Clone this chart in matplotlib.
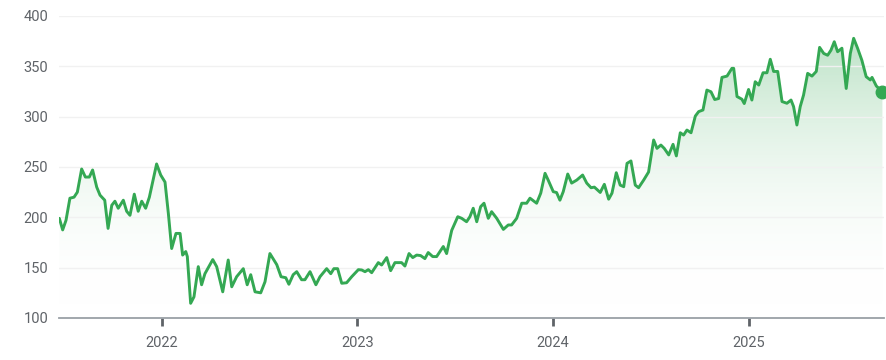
import numpy as np
import matplotlib
matplotlib.use("Agg")
import matplotlib.pyplot as plt
from matplotlib.patches import Polygon
from matplotlib.colors import LinearSegmentedColormap

# decimal years and closing prices
years = [2021.477, 2021.494, 2021.511, 2021.531, 2021.552, 2021.569, 2021.591, 2021.610,
         2021.630, 2021.647, 2021.668, 2021.685, 2021.709, 2021.726, 2021.745, 2021.761,
         2021.778, 2021.804, 2021.821, 2021.838, 2021.860, 2021.880, 2021.898, 2021.918,
         2021.937, 2021.974, 2021.995, 2022.017, 2022.034, 2022.051, 2022.073, 2022.094,
         2022.107, 2022.123, 2022.131, 2022.148, 2022.165, 2022.187, 2022.204, 2022.221,
         2022.261, 2022.281, 2022.312, 2022.340, 2022.358, 2022.383, 2022.417, 2022.437,
         2022.455, 2022.477, 2022.506, 2022.528, 2022.553, 2022.588, 2022.610, 2022.634,
         2022.650, 2022.672, 2022.690, 2022.715, 2022.732, 2022.758, 2022.788, 2022.809,
         2022.843, 2022.864, 2022.880, 2022.899, 2022.920, 2022.945, 2022.971, 2023.005,
         2023.022, 2023.039, 2023.056, 2023.073, 2023.107, 2023.124, 2023.150, 2023.170,
         2023.192, 2023.226, 2023.243, 2023.264, 2023.283, 2023.303, 2023.323, 2023.345,
         2023.362, 2023.385, 2023.405, 2023.439, 2023.456, 2023.482, 2023.513, 2023.533,
         2023.558, 2023.575, 2023.592, 2023.610, 2023.630, 2023.647, 2023.669, 2023.686,
         2023.712, 2023.746, 2023.771, 2023.788, 2023.814, 2023.840, 2023.865, 2023.882,
         2023.916, 2023.937, 2023.959, 2023.975, 2024.001, 2024.018, 2024.035, 2024.052,
         2024.075, 2024.095, 2024.121, 2024.151, 2024.172, 2024.194, 2024.211, 2024.241,
         2024.262, 2024.284, 2024.301, 2024.323, 2024.343, 2024.361, 2024.378, 2024.398,
         2024.420, 2024.437, 2024.463, 2024.488, 2024.514, 2024.531, 2024.551, 2024.568,
         2024.591, 2024.613, 2024.630, 2024.650, 2024.667, 2024.684, 2024.705, 2024.727,
         2024.744, 2024.766, 2024.786, 2024.807, 2024.826, 2024.846, 2024.863, 2024.889,
         2024.914, 2024.923, 2024.940, 2024.965, 2024.977, 2024.999, 2025.016, 2025.033,
         2025.051, 2025.073, 2025.093, 2025.110, 2025.127, 2025.148, 2025.170, 2025.195,
         2025.216, 2025.229, 2025.246, 2025.263, 2025.280, 2025.301, 2025.323, 2025.345,
         2025.362, 2025.383, 2025.403, 2025.420, 2025.437, 2025.454, 2025.476, 2025.498,
         2025.519, 2025.536, 2025.556, 2025.578, 2025.600, 2025.621, 2025.630, 2025.652,
         2025.683]
prices = [199, 187.5, 197, 219, 220, 225, 248, 240,
          240, 247, 230, 222, 217, 189, 212, 216,
          209, 217, 206, 202, 223, 206, 216, 209,
          220, 253, 242, 235, 204, 169, 184, 184,
          162.5, 166, 161, 114.6, 121, 151, 133, 144,
          158, 151, 126, 157.6, 131, 141, 149, 133,
          143, 126, 125, 136, 164, 153, 141, 140,
          133.5, 143, 146, 138, 138, 146, 133, 141,
          149, 144, 149, 149, 134.5, 135, 141, 148,
          147.7, 146, 148, 145, 155, 152.6, 160, 147,
          155, 155, 151.6, 164, 160, 162.5, 162, 159,
          165, 161, 161, 171, 164, 187, 200.6, 199,
          195.6, 200.6, 209, 195.6, 210.6, 214, 199, 205.6,
          199, 188, 192.4, 192.4, 199, 214, 214, 219,
          214, 224, 243.7, 237, 225.5, 224.6, 217, 225.5,
          243, 234, 237, 242, 234, 229.4, 230, 224.7,
          232.8, 218, 224, 244.3, 232, 230.4, 253.6, 256,
          232, 229.4, 237, 245, 276.8, 268.5, 271.8, 268.5,
          262, 272.5, 261, 284, 281.7, 286.7, 284, 300.6,
          305, 306.6, 326.4, 324.7, 317, 318, 339, 340.3,
          348, 348, 320, 317.3, 313, 327, 316.5, 334.7,
          331.4, 343.6, 343.6, 357, 344.9, 344.9, 315, 313.3,
          316.5, 310, 291.7, 310, 321.5, 343, 340.3, 344.9,
          368.8, 362.8, 361, 366, 374.4, 364.5, 368, 328,
          362.8, 377.8, 368, 356, 339.7, 336.5, 339, 330.4,
          324.7]
tick_years = [2022, 2023, 2024, 2025]
tick_labels = ["2022", "2023", "2024", "2025"]
y_ticks = [100, 150, 200, 250, 300, 350, 400]

green = "#34a853"
text_col = "#5f6368"

plt.rcParams['font.family'] = ['Roboto', 'DejaVu Sans']

fig = plt.figure(figsize=(8.87, 3.6), dpi=100)
ax = fig.add_axes([0.0669, 0.1167, 0.9297, 0.8389])

x0, x1 = 2021.477, 2025.691
ax.set_xlim(x0, x1)
ax.set_ylim(100, 400)

# gradient fill under the line
cmap = LinearSegmentedColormap.from_list("g", [(1, 1, 1, 0), (0.204, 0.659, 0.325, 0.34)])
grad = np.linspace(0, 1, 256).reshape(-1, 1)
img = ax.imshow(grad, extent=[x0, x1, 110, 385], origin="lower", aspect="auto",
                cmap=cmap, zorder=1)
verts = [(years[0], 100)] + list(zip(years, prices)) + [(years[-1], 100)]
poly = Polygon(verts, closed=True, facecolor="none", edgecolor="none")
ax.add_patch(poly)
img.set_clip_path(poly)

ax.plot(years, prices, color=green, lw=2.1, zorder=4, solid_joinstyle="round",
        solid_capstyle="round")
ax.plot(years[-1], prices[-1], "o", color=green, ms=9, zorder=5, clip_on=False)

ax.set_yticks(y_ticks)
for v in y_ticks[1:]:
    ax.axhline(v, color="#f1f1f1", lw=1, zorder=2)

ax.set_xticks(tick_years)
ax.set_xticklabels(tick_labels)
ax.tick_params(axis="x", length=6, width=2, color="#5f6368", colors=text_col,
               labelsize=10.5, pad=7)
ax.tick_params(axis="y", length=0, colors=text_col, labelsize=10.5, pad=8)

for s in ["top", "right", "left"]:
    ax.spines[s].set_visible(False)
ax.spines["bottom"].set_color("#9aa0a6")
ax.spines["bottom"].set_linewidth(1.3)
ax.spines["bottom"].set_zorder(3)

fig.savefig("out.png", dpi=100)
